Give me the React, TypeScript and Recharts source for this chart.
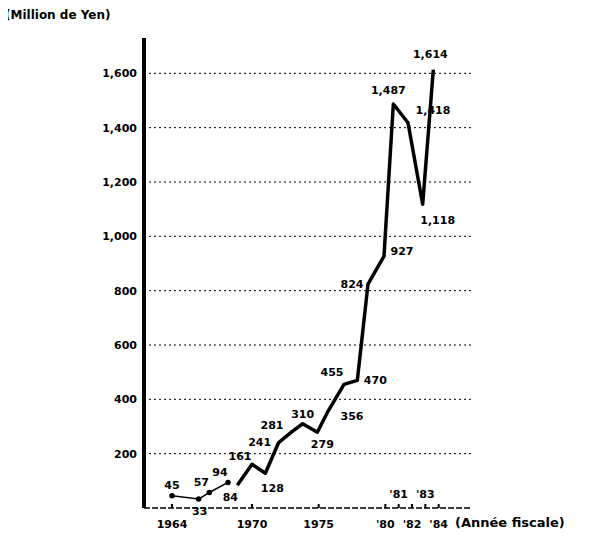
import { LineChart, Line, XAxis, YAxis, CartesianGrid, LabelList } from 'recharts'

// fiscal-year positions as they sit on the original (hand drawn) chart
const fiscalYears = [1964, 1966, 1966.8, 1968.2, 1968.9, 1970, 1971, 1972, 1973, 1973.8, 1974.9, 1975.7, 1976.9, 1977.9, 1978.7, 1979.9, 1980.6, 1981.7, 1982.8, 1983.6]
// million yen
const amounts = [45, 33, 57, 94, 84, 161, 128, 241, 281, 310, 279, 356, 455, 470, 824, 927, 1487, 1418, 1118, 1614]
const yTicks = [200, 400, 600, 800, 1000, 1200, 1400, 1600]
const xTicks = [1964, 1970, 1975, 1980, 1981, 1982, 1983, 1984]
const xTickLabels: Record<number, string> = {
    1964: '1964',
    1970: '1970',
    1975: '1975',
    1980: "'80",
    1981: "'81",
    1982: "'82",
    1983: "'83",
    1984: "'84",
}
const xLabelsAbove = [1981, 1983]
const thinPoints = 4

// where each value label sits relative to its point [dx, dy]
const LABEL_OFFSETS: [number, number][] = [
    [0, -10], [1, 13], [-8, -10], [-8, -9], [-7, 13], [-12, -7], [7, 16], [-19, 0], [-20, -6], [0, -9],
    [5, 13], [24, 6], [-12, -11], [18, 1], [-16, 1], [18, -4], [-5, -13], [25, -12], [15, 17], [-3, -15],
]

const FONT = '"DejaVu Sans", sans-serif'

const data = fiscalYears.map((year, i) => ({
    year,
    amount: amounts[i],
    thin: i < thinPoints ? amounts[i] : null,
    thick: i >= thinPoints ? amounts[i] : null,
}))

const XTick = (props: any) => {
    const { x, y, payload } = props
    const above = xLabelsAbove.includes(payload.value)
    return (
        <g>
            <line x1={x} x2={x} y1={y} y2={y - 4} stroke="#000" strokeWidth={2} />
            <text
                x={x}
                y={above ? y - 13 : y + 17}
                textAnchor="middle"
                dominantBaseline="middle"
                fontSize={11}
                fontWeight={700}
                fontFamily={FONT}
                fill="#000"
            >
                {xTickLabels[payload.value]}
            </text>
        </g>
    )
}

const ValueLabel = (props: any) => {
    const { x, y, index, value } = props
    if (value == null) return null
    const [dx, dy] = LABEL_OFFSETS[index] || [0, -10]
    return (
        <text
            x={x + dx}
            y={y + dy}
            textAnchor="middle"
            dominantBaseline="middle"
            fontSize={11}
            fontWeight={700}
            fontFamily={FONT}
            fill="#000"
        >
            {value.toLocaleString('en-US')}
        </text>
    )
}

export default function App() {
    return (
        <div style={{ position: 'relative', width: 598, height: 539, margin: -8, background: '#fff' }}>
            <div style={{ position: 'absolute', left: 5, top: 8, fontFamily: FONT, fontWeight: 700, fontSize: 12, color: '#000', lineHeight: '14px' }}>
                (Million de Yen)
            </div>
            <div style={{ position: 'absolute', left: 455, top: 515, fontFamily: FONT, fontWeight: 700, fontSize: 13, color: '#000', lineHeight: '16px' }}>
                (Année fiscale)
            </div>
            <LineChart width={598} height={539} data={data} margin={{ top: 38, right: 126, bottom: 1, left: 84 }}>
                <CartesianGrid
                    vertical={false}
                    horizontalValues={yTicks}
                    stroke="#000"
                    strokeDasharray="2 3"
                    strokeWidth={1}
                />
                <XAxis
                    type="number"
                    dataKey="year"
                    domain={[1961.9, 1986.5]}
                    ticks={xTicks}
                    interval={0}
                    allowDataOverflow
                    height={30}
                    tickSize={0}
                    tickMargin={0}
                    tickLine={false}
                    tick={<XTick />}
                    axisLine={{ stroke: '#000', strokeWidth: 1.5, strokeDasharray: '6 2' }}
                />
                <YAxis
                    type="number"
                    domain={[0, 1730]}
                    ticks={yTicks}
                    interval={0}
                    allowDataOverflow
                    width={60}
                    tickSize={0}
                    tickMargin={7}
                    tickLine={false}
                    tickFormatter={(v: number) => v.toLocaleString('en-US')}
                    tick={{ fill: '#000', fontSize: 11, fontWeight: 700, fontFamily: FONT }}
                    axisLine={{ stroke: '#000', strokeWidth: 4 }}
                />
                <Line
                    dataKey="thin"
                    stroke="#000"
                    strokeWidth={1.5}
                    dot={{ r: 2, fill: '#000', stroke: '#000' }}
                    isAnimationActive={false}
                />
                <Line
                    dataKey="thick"
                    stroke="#000"
                    strokeWidth={3.5}
                    strokeLinejoin="round"
                    dot={false}
                    isAnimationActive={false}
                />
                <Line dataKey="amount" stroke="none" dot={false} activeDot={false} isAnimationActive={false}>
                    <LabelList dataKey="amount" content={<ValueLabel />} />
                </Line>
            </LineChart>
        </div>
    )
}
